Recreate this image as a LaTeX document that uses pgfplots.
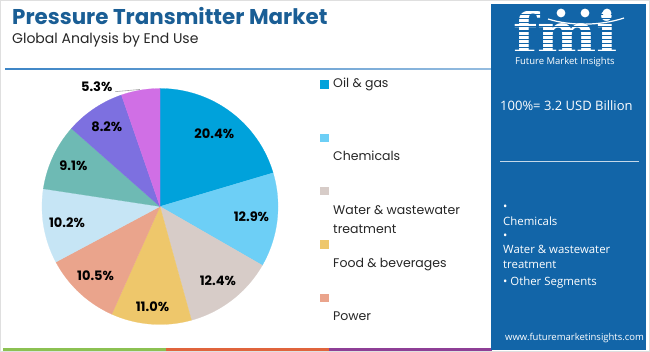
\documentclass[border=0pt]{standalone}
\usepackage{fontspec}
\setmainfont{Poppins}
\newfontfamily\panelfont{Open Sans}
\newfontfamily\logofont{DejaVu Serif}
\usepackage{pgfplots}
\usepackage{pgfplotstable}
\pgfplotsset{compat=1.18}
\definecolor{c1}{RGB}{0,162,219}
\definecolor{c2}{RGB}{109,207,246}
\definecolor{c3}{RGB}{215,204,200}
\definecolor{c4}{RGB}{238,199,107}
\definecolor{c5}{RGB}{234,164,140}
\definecolor{c6}{RGB}{198,229,245}
\definecolor{c7}{RGB}{110,186,180}
\definecolor{c8}{RGB}{125,112,224}
\definecolor{c9}{RGB}{208,111,229}
\definecolor{titleblue}{RGB}{26,94,149}
\definecolor{panel}{RGB}{18,101,168}
\definecolor{lineblue}{RGB}{61,133,198}
\definecolor{sgreen}{RGB}{140,193,82}
\definecolor{sorange}{RGB}{224,100,60}
\definecolor{spurple}{RGB}{142,63,150}

\pgfplotstableread{
value r col
20.4 0.77 c1
12.9 0.78 c2
12.4 0.80 c3
11.0 0.85 c4
10.5 0.80 c5
10.2 0.80 c6
9.1 0.81 c7
8.2 0.81 c8
5.3 0.80 c9
}\piedata

\tikzset{pielab/.style={font=\bfseries\fontsize{13}{13}\selectfont, inner sep=0pt}}

\begin{document}
\begin{tikzpicture}
\useasboundingbox (0,0) rectangle (650pt,352pt);
\begin{scope}[x=1pt,y=1pt]
\fill[white] (0,0) rectangle (650,352);
\draw[gray!25, line width=1pt] (0.5,0.5) rectangle (649.5,351.5);
% title
\node[anchor=base west, inner sep=0pt, text=titleblue, font=\bfseries\fontsize{21.4}{24}\selectfont] at (12,327) {Pressure Transmitter Market};
\node[anchor=base west, inner sep=0pt, text=black!85, font=\fontsize{14}{16}\selectfont] at (12,308) {Global Analysis by End Use};
\shade[left color=lineblue, right color=lineblue!55] (5,282.2) rectangle (491,283.8);
% bottom strip
\fill[sgreen] (3,1) rectangle (166,4);
\fill[sorange] (166,1) rectangle (329,4);
\fill[spurple] (329,1) rectangle (492,4);
% legend
\fill[c1] (320,263) rectangle (328.5,271.5);
\fill[c2] (320,209.5) rectangle (328.5,218);
\fill[c3] (320,156.5) rectangle (328.5,165);
\fill[c4] (320,103) rectangle (328.5,111.5);
\fill[c5] (320,49.5) rectangle (328.5,58);
\begin{scope}[every node/.style={anchor=base west, inner sep=0pt, text=black!85, font=\fontsize{12.5}{14}\selectfont}]
\node at (333,264) {Oil \& gas};
\node at (333,191) {Chemicals};
\node at (333,137.7) {Water \& wastewater};
\node at (333,118.7) {treatment};
\node at (333,84.7) {Food \& beverages};
\node at (333,31.3) {Power};
\end{scope}
% right panel
\fill[panel] (491,2) rectangle (646,348);
\node[anchor=base west, inner sep=0pt, text=white, font=\logofont\bfseries\fontsize{56}{56}\selectfont] at (513,298.5) {fmi};
\foreach \yy in {300,304.2,...,342} {\draw[panel, line width=1.3pt] (505,\yy) -- (630,\yy);}
\fill[white] (561,339) circle (4.4);
\fill[white] (585,339) circle (4.4);
\fill[white] (607,339) circle (4.4);
\draw[white, line width=1.2pt] (548,333) .. controls (570,326) and (600,326) .. (624,334);
\begin{scope}[every node/.style={anchor=base west, inner sep=0pt, text=white}]
\node[font=\panelfont\fontsize{9.5}{11}\selectfont] at (515,287.5) {Future Market Insights};
\node[font=\panelfont\fontsize{13}{15}\selectfont] at (500,241) {100\%= 3.2 USD Billion};
\node[font=\panelfont\fontsize{11.4}{13}\selectfont] at (503,141) {•};
\node[font=\panelfont\fontsize{11.4}{13}\selectfont] at (503,126) {Chemicals};
\node[font=\panelfont\fontsize{11.4}{13}\selectfont] at (503,112) {•};
\node[font=\panelfont\fontsize{11.4}{13}\selectfont] at (503,98) {Water \& wastewater};
\node[font=\panelfont\fontsize{11.4}{13}\selectfont] at (503,83) {treatment};
\node[font=\panelfont\fontsize{11.4}{13}\selectfont] at (503,66) {• Other Segments};
\node[font=\panelfont\fontsize{9.5}{11}\selectfont] at (505,11) {www.futuremarketinsights.com};
\end{scope}
\draw[white!75!panel, line width=1pt] (500,190) -- (639,190);
\end{scope}
% pie
\begin{axis}[at={(160pt,145.5pt)}, anchor=center, width=236pt, height=236pt, scale only axis,
  hide axis, xmin=-1, xmax=1, ymin=-1, ymax=1, clip=false]
\def\cum{0}
\pgfplotsforeachungrouped \i in {0,...,8}{%
  \pgfplotstablegetelem{\i}{value}\of\piedata \let\v\pgfplotsretval
  \pgfplotstablegetelem{\i}{r}\of\piedata \let\rr\pgfplotsretval
  \pgfplotstablegetelem{\i}{col}\of\piedata \let\cc\pgfplotsretval
  \pgfmathsetmacro\a{90-3.6*\cum}
  \pgfmathsetmacro\b{90-3.6*(\cum+\v)}
  \pgfmathsetmacro\m{(\a+\b)/2}
  \pgfmathsetmacro\lx{\rr*cos(\m)}
  \pgfmathsetmacro\ly{\rr*sin(\m)}
  \edef\temp{\noexpand\addplot[fill=\cc, draw=\cc, line width=0.2pt, domain=\b:\a, samples=60] ({cos(x)},{sin(x)}) -- (axis cs:0,0) -- cycle;}
  \temp
  \ifnum\i<8
    \edef\temp{\noexpand\node[pielab] at (axis cs:\lx,\ly) {\v\noexpand\%};}
    \temp
  \fi
  \pgfmathsetmacro\cum{\cum+\v}
}
\draw[gray!70, line width=0.6pt] (axis cs:-0.38,0.973) -- (axis cs:-0.17,0.992);
\node[pielab] at (axis cs:-0.536,1.015) {5.3\%};
\end{axis}
\end{tikzpicture}
\end{document}
